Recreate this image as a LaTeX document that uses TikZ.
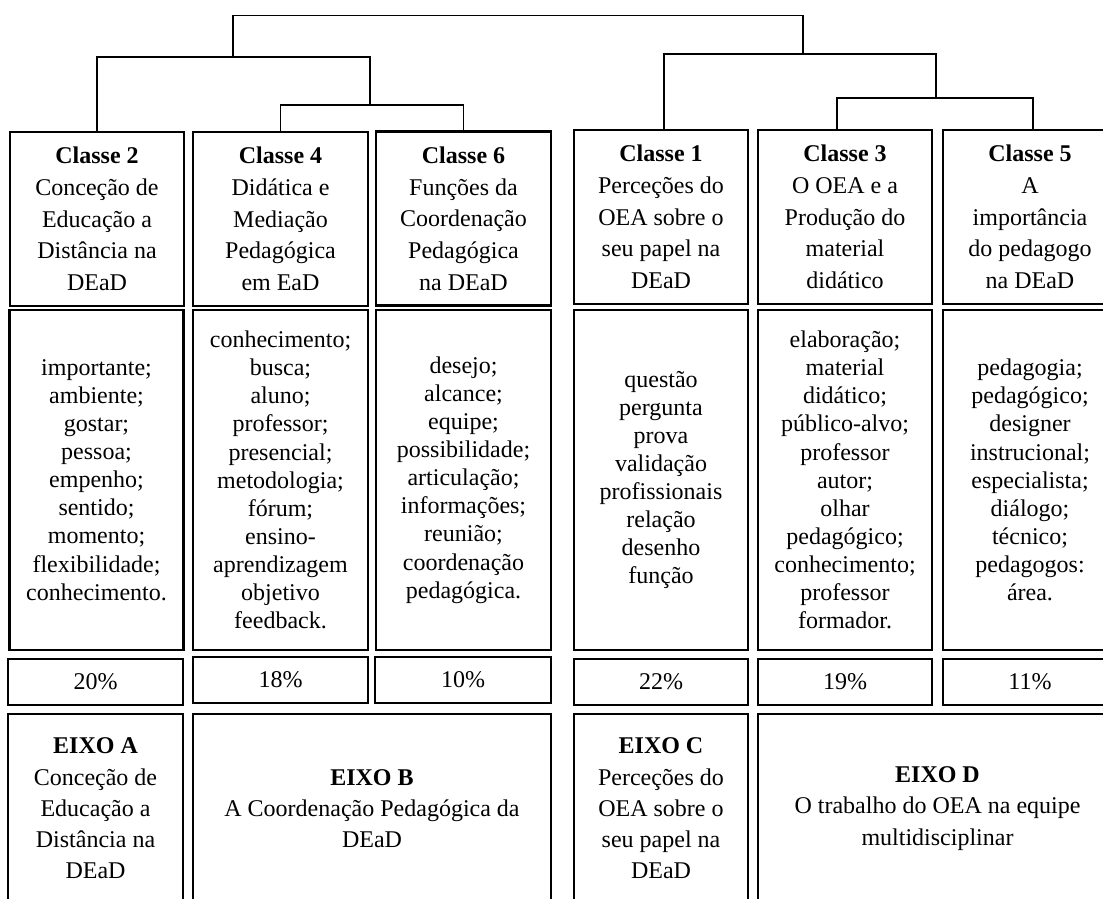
\documentclass[tikz,border=0pt]{standalone}
\usepackage{fontspec}
\setmainfont{Liberation Serif}
\tikzset{
  cell/.style={draw=black, line width=1.1pt, inner sep=0pt, align=center, anchor=center},
  head/.style={cell, font=\fontsize{12}{15.85}\selectfont},
  words/.style={cell, font=\fontsize{12}{14.05}\selectfont},
  pct/.style={cell, font=\fontsize{12}{14}\selectfont},
  eixo/.style={cell, font=\fontsize{12}{15.6}\selectfont},
  link/.style={draw=black, line width=0.8pt}
}
\begin{document}
\begin{tikzpicture}[x=0.5pt,y=-0.5pt]
\useasboundingbox (0,0) rectangle (1103,899);
\clip (0,0) rectangle (1103,899);
% Classe row
\node[head, minimum width=87pt, minimum height=87pt] (c2) at (97,219) {\textbf{Classe 2}\\Conceção de\\Educação a\\Distância na\\DEaD};
\node[head, minimum width=87.5pt, minimum height=87pt] (c4) at (280.5,219) {\textbf{Classe 4}\\Didática e\\Mediação\\Pedagógica\\em EaD};
\node[head, minimum width=87.5pt, minimum height=87pt] (c6) at (463.5,218.5) {\textbf{Classe 6}\\Funções da\\Coordenação\\Pedagógica\\na DEaD};
\node[head, minimum width=87pt, minimum height=87pt] (c1) at (661,217) {\textbf{Classe 1}\\Perceções do\\OEA sobre o\\seu papel na\\DEaD};
\node[head, minimum width=87pt, minimum height=87pt] (c3) at (845,217) {\textbf{Classe 3}\\O OEA e a\\Produção do\\material\\didático};
\node[head, minimum width=87pt, minimum height=87pt] (c5) at (1030,217) {\textbf{Classe 5}\\A\\importância\\do pedagogo\\na DEaD};
% Words row
\node[words, minimum width=87pt, minimum height=170pt] (w2) at (96.5,480) {importante;\\ambiente;\\gostar;\\pessoa;\\empenho;\\sentido;\\momento;\\flexibilidade;\\conhecimento.};
\node[words, minimum width=87.5pt, minimum height=170pt] (w4) at (280.5,480) {conhecimento;\\busca;\\aluno;\\professor;\\presencial;\\metodologia;\\fórum;\\ensino-\\aprendizagem\\objetivo\\feedback.};
\node[words, minimum width=87.5pt, minimum height=170pt] (w6) at (463.5,480) {desejo;\\alcance;\\equipe;\\possibilidade;\\articulação;\\informações;\\reunião;\\coordenação\\pedagógica.};
\node[words, minimum width=87pt, minimum height=170pt] (w1) at (661,480) {questão\\pergunta\\prova\\validação\\profissionais\\relação\\desenho\\função};
\node[words, minimum width=87pt, minimum height=170pt] (w3) at (845,480) {elaboração;\\material\\didático;\\público-alvo;\\professor\\autor;\\olhar\\pedagógico;\\conhecimento;\\professor\\formador.};
\node[words, minimum width=87pt, minimum height=170pt] (w5) at (1030,480) {pedagogia;\\pedagógico;\\designer\\instrucional;\\especialista;\\diálogo;\\técnico;\\pedagogos:\\área.};
% Percent row
\node[pct, minimum width=87.5pt, minimum height=23pt] (p2) at (95.5,682) {20\%};
\node[pct, minimum width=87.5pt, minimum height=23pt] (p4) at (280.5,680) {18\%};
\node[pct, minimum width=88pt, minimum height=23pt] (p6) at (463,680) {10\%};
\node[pct, minimum width=87pt, minimum height=23pt] (p1) at (661,682) {22\%};
\node[pct, minimum width=87pt, minimum height=23pt] (p3) at (845,682) {19\%};
\node[pct, minimum width=87pt, minimum height=23pt] (p5) at (1030,682) {11\%};
% Eixo row
\node[eixo, minimum width=87.5pt, minimum height=94.5pt] (ea) at (95.5,808.5) {\textbf{EIXO A}\\Conceção de\\Educação a\\Distância na\\DEaD};
\node[eixo, minimum width=179pt, minimum height=94.5pt] (eb) at (372,808.5) {\textbf{EIXO B}\\A Coordenação Pedagógica da\\DEaD};
\node[eixo, minimum width=87pt, minimum height=94.5pt] (ec) at (661,808.5) {\textbf{EIXO C}\\Perceções do\\OEA sobre o\\seu papel na\\DEaD};
\node[eixo, minimum width=179.5pt, minimum height=94.5pt] (ed) at (937.5,808.5) {\textbf{EIXO D}\\O trabalho do OEA na equipe\\multidisciplinar};
% Dendrogram
\coordinate (j46) at (370,105);
\coordinate (jL) at (233,57);
\coordinate (j35) at (936,98);
\coordinate (jR) at (803,54);
\coordinate (jT) at (518,15.5);
\draw[link] (c4.north) |- (j46) -| (c6.north);
\draw[link] (c2.north) |- (jL) -| (j46);
\draw[link] ([xshift=-4pt]c3.north) |- (j35) -| ([xshift=1.5pt]c5.north);
\draw[link] ([xshift=1.5pt]c1.north) |- (jR) -| (j35);
\draw[link] (jL) |- (jT) -| (jR);
\end{tikzpicture}
\end{document}
